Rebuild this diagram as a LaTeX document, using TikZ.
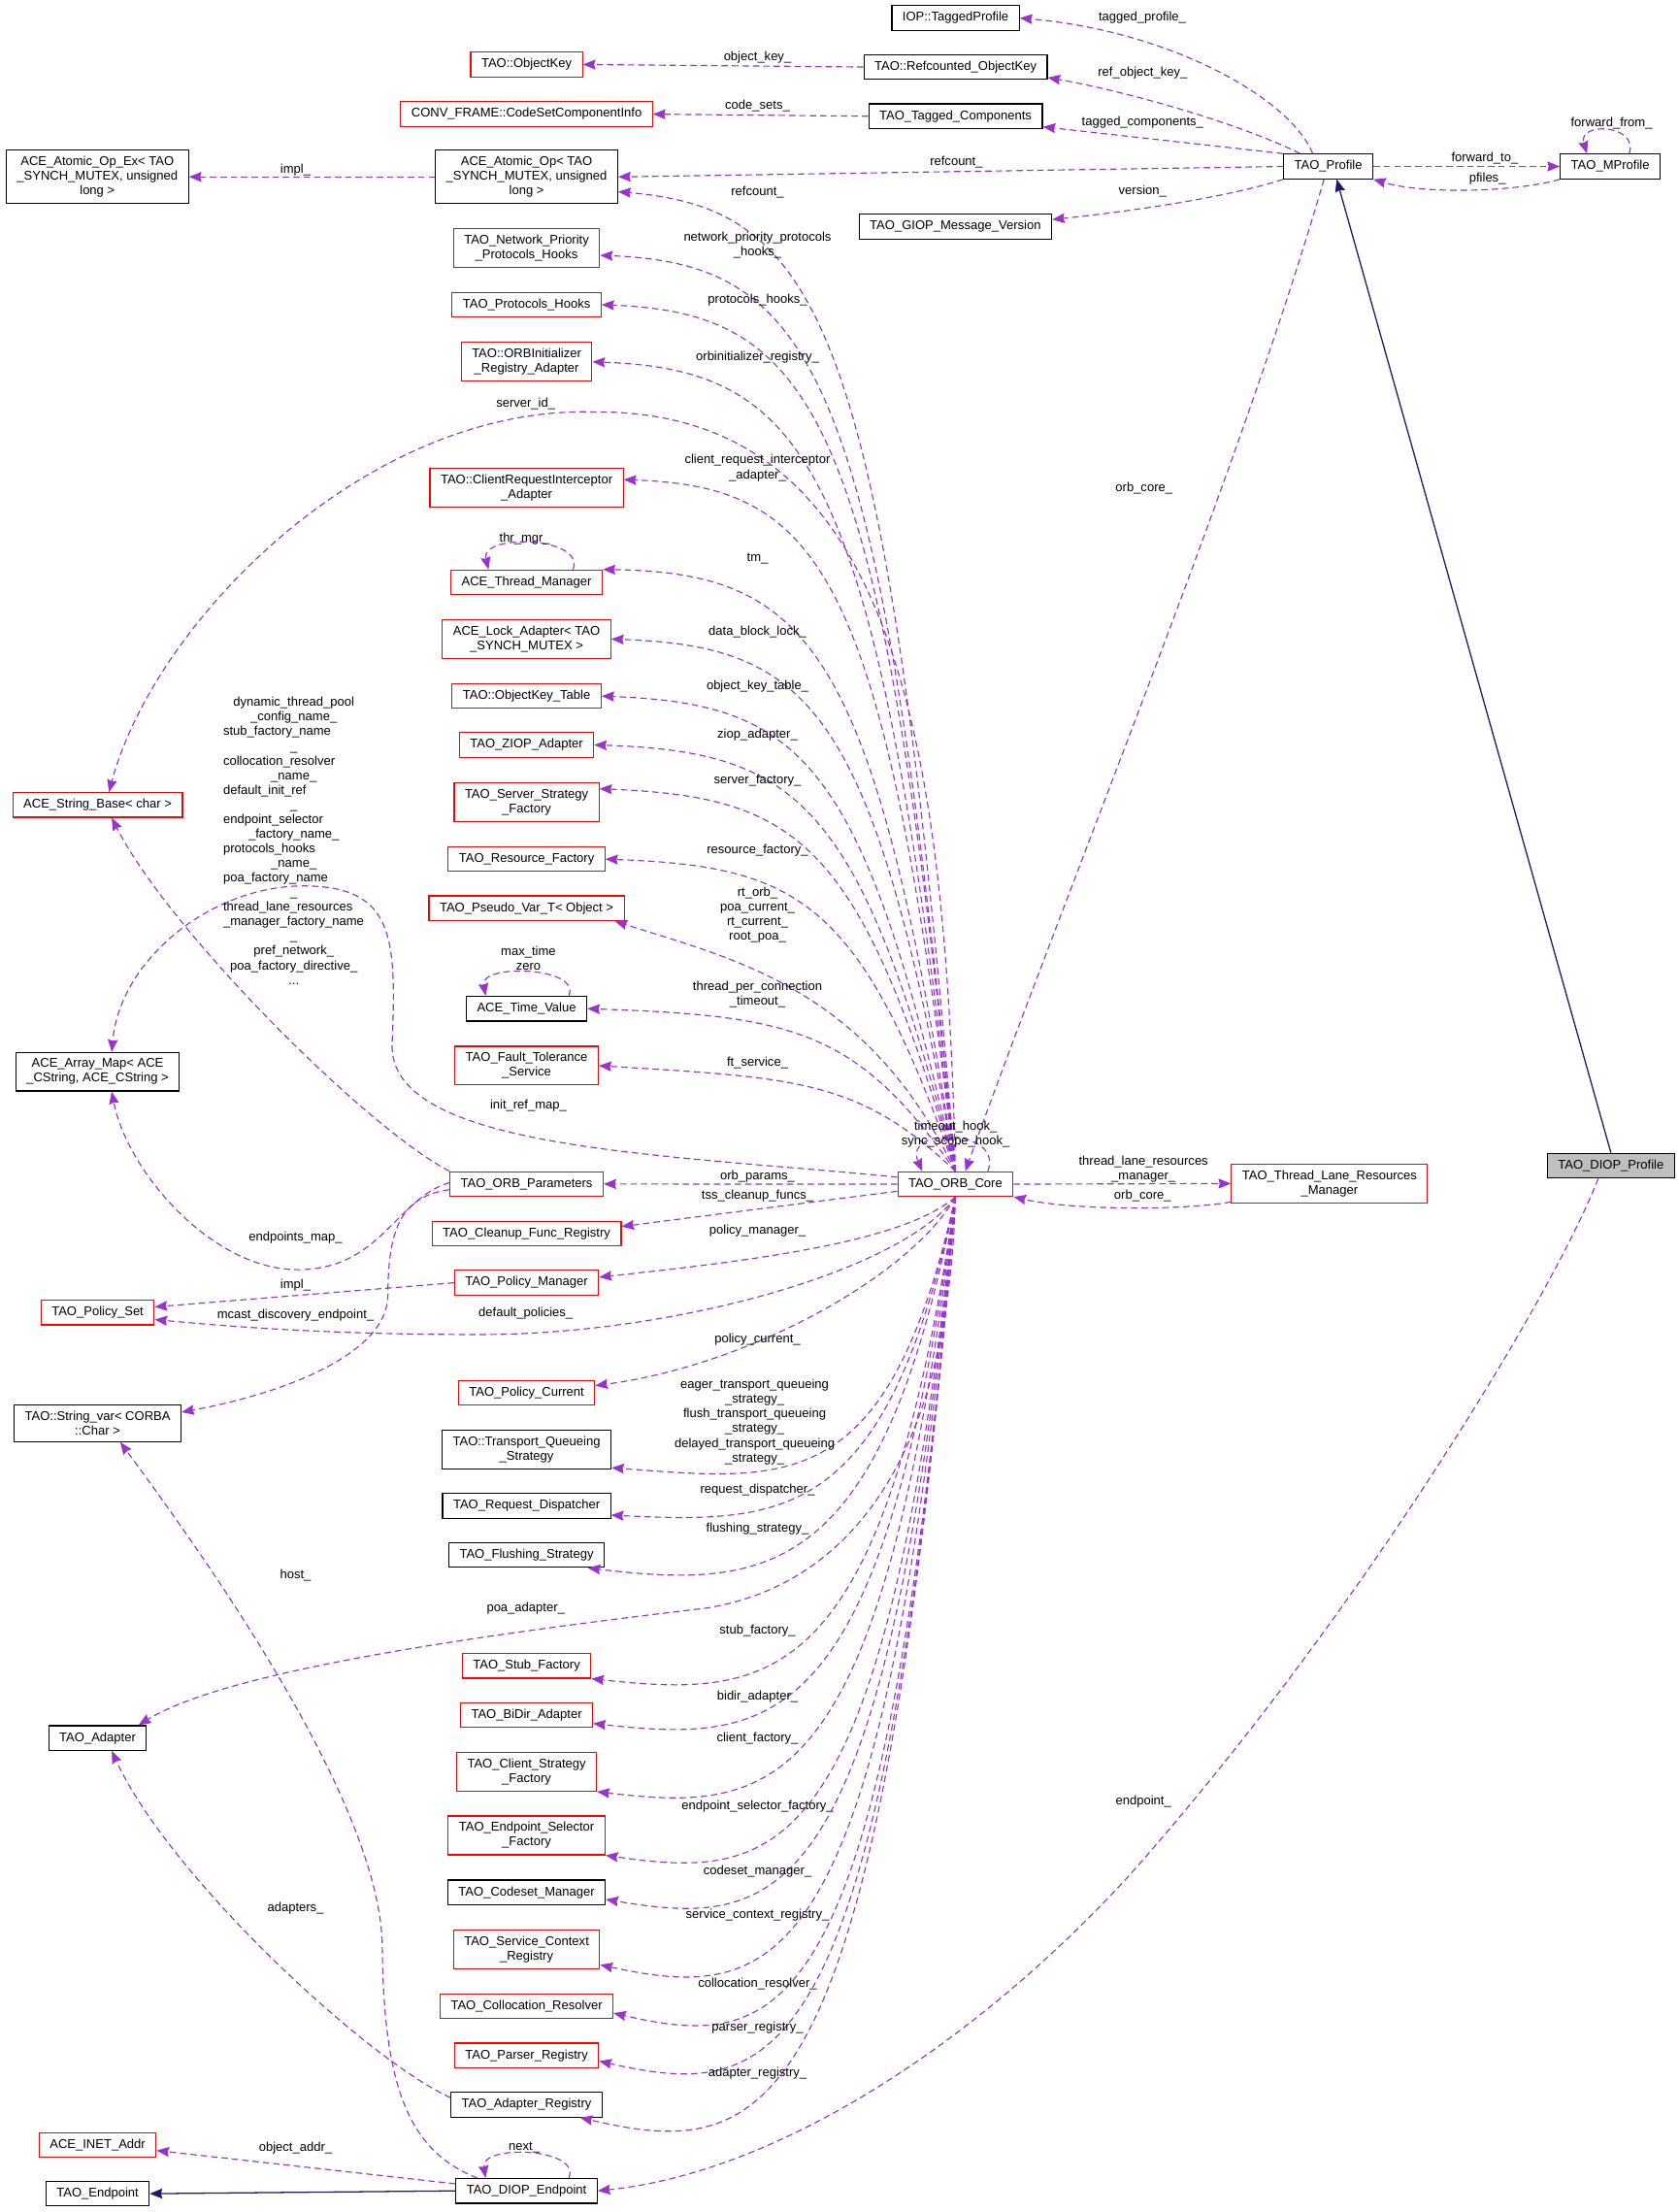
\documentclass[tikz,border=0pt]{standalone}
\usepackage{fontspec}
\setmainfont{Liberation Sans}
\usepackage{tikz}
\usetikzlibrary{arrows.meta, calc}

\definecolor{edgepurple}{HTML}{9A32CD}
\definecolor{inhnavy}{HTML}{191970}
\definecolor{curgray}{HTML}{BFBFBF}
\newcommand{\dxfont}{\fontsize{5.1}{5.9}\selectfont}
\newcommand{\lline}[1]{\makebox[2.0cm][l]{#1}}

\begin{document}
\begin{tikzpicture}[
    x=0.02cm, y=-0.02cm,
    >={Stealth[length=5pt,width=4pt,inset=0.5pt]},
    cls/.style={rectangle, draw=black, line width=0.45pt, inner xsep=4.3pt, inner ysep=2.5pt, minimum height=0.35cm, align=center, font=\dxfont},
    trunc/.style={cls, draw=red},
    cur/.style={cls, fill=curgray},
    uses/.style={->, draw=edgepurple, line width=0.45pt, dash pattern=on 2.6pt off 1.6pt},
    inherit/.style={->, draw=inhnavy, line width=0.5pt},
    lbl/.style={font=\dxfont, align=center, inner sep=0pt}
]
\useasboundingbox (0,0) rectangle (1190,1568);

% classes
\node[cls]   (tagprof)    at (677.4,12.8)  {IOP::TaggedProfile};
\node[trunc] (objkey)     at (373.3,45.7)  {TAO::ObjectKey};
\node[cls]   (refkey)     at (677.4,47.5)  {TAO::Refcounted\_ObjectKey};
\node[trunc] (codeset)    at (373.3,80.9)  {CONV\_FRAME::CodeSetComponentInfo};
\node[cls]   (tagcomp)    at (677.4,82.4)  {TAO\_Tagged\_Components};
\node[cls]   (atomex)     at (69,125.4)    {ACE\_Atomic\_Op\_Ex< TAO\\\_SYNCH\_MUTEX, unsigned\\long >};
\node[cls]   (atom)       at (373.3,125.4) {ACE\_Atomic\_Op< TAO\\\_SYNCH\_MUTEX, unsigned\\long >};
\node[cls]   (profile)    at (941.6,118)   {TAO\_Profile};
\node[cls]   (mprofile)   at (1141.5,118)  {TAO\_MProfile};
\node[cls]   (giopver)    at (677.3,160.6) {TAO\_GIOP\_Message\_Version};
\node[trunc] (netprio)    at (373.3,176)   {TAO\_Network\_Priority\\\_Protocols\_Hooks};
\node[trunc] (prothooks)  at (373.3,216)   {TAO\_Protocols\_Hooks};
\node[trunc] (orbinit)    at (373.3,256.5) {TAO::ORBInitializer\\\_Registry\_Adapter};
\node[trunc] (clientreq)  at (373.3,346)   {TAO::ClientRequestInterceptor\\\_Adapter};
\node[trunc] (thrmgr)     at (373.3,412.8) {ACE\_Thread\_Manager};
\node[trunc] (lockad)     at (373.3,453)   {ACE\_Lock\_Adapter< TAO\\\_SYNCH\_MUTEX >};
\node[trunc] (keytable)   at (373.3,493.4) {TAO::ObjectKey\_Table};
\node[trunc] (ziop)       at (373.3,528)   {TAO\_ZIOP\_Adapter};
\node[trunc] (serverfac)  at (373.3,568.6) {TAO\_Server\_Strategy\\\_Factory};
\node[trunc] (resfac)     at (373.3,609)   {TAO\_Resource\_Factory};
\node[trunc] (pseudovar)  at (373.3,643.8) {TAO\_Pseudo\_Var\_T< Object >};
\node[cls]   (timeval)    at (373.3,715)   {ACE\_Time\_Value};
\node[trunc] (ftserv)     at (373.3,755.4) {TAO\_Fault\_Tolerance\\\_Service};
\node[trunc] (params)     at (373.3,839.3) {TAO\_ORB\_Parameters};
\node[trunc] (cleanup)    at (373.3,874.4) {TAO\_Cleanup\_Func\_Registry};
\node[trunc] (polmgr)     at (373.3,909.3) {TAO\_Policy\_Manager};
\node[trunc] (polcur)     at (373.3,987.2) {TAO\_Policy\_Current};
\node[cls]   (tqueue)     at (373.3,1027.4) {TAO::Transport\_Queueing\\\_Strategy};
\node[cls]   (reqdisp)    at (373.3,1067.5) {TAO\_Request\_Dispatcher};
\node[cls]   (flush)      at (373.3,1102.3) {TAO\_Flushing\_Strategy};
\node[trunc] (stubfac)    at (373.3,1180.8) {TAO\_Stub\_Factory};
\node[trunc] (bidir)      at (373.3,1215.7) {TAO\_BiDir\_Adapter};
\node[trunc] (clientfac)  at (373.3,1255.9) {TAO\_Client\_Strategy\\\_Factory};
\node[trunc] (epsel)      at (373.3,1301)   {TAO\_Endpoint\_Selector\\\_Factory};
\node[cls]   (codesetmgr) at (373.3,1341.4) {TAO\_Codeset\_Manager};
\node[trunc] (svcctx)     at (373.3,1381.8) {TAO\_Service\_Context\\\_Registry};
\node[trunc] (colloc)     at (373.3,1422)   {TAO\_Collocation\_Resolver};
\node[trunc] (parser)     at (373.3,1457)   {TAO\_Parser\_Registry};
\node[cls]   (adreg)      at (373.3,1491.9) {TAO\_Adapter\_Registry};
\node[cls]   (diopep)     at (373.3,1553)   {TAO\_DIOP\_Endpoint};
\node[trunc] (strbase)    at (69.2,570.6)  {ACE\_String\_Base< char >};
\node[cls]   (arrmap)     at (69.2,759.7)  {ACE\_Array\_Map< ACE\\\_CString, ACE\_CString >};
\node[trunc] (polset)     at (69.2,930.4)  {TAO\_Policy\_Set};
\node[cls]   (strvar)     at (69.2,1009)   {TAO::String\_var< CORBA\\::Char >};
\node[cls]   (adapter)    at (69.2,1232)   {TAO\_Adapter};
\node[trunc] (inet)       at (69.2,1520.4) {ACE\_INET\_Addr};
\node[cls]   (endpoint)   at (69.2,1555)   {TAO\_Endpoint};
\node[trunc] (core)       at (677.3,839.4) {TAO\_ORB\_Core};
\node[trunc] (tlrm)       at (942.5,839)   {TAO\_Thread\_Lane\_Resources\\\_Manager};
\node[cur]   (diopprof)   at (1142,826.3)  {TAO\_DIOP\_Profile};

% TAO_Profile members
\draw[uses] ([xshift=-0.22cm]profile.north) .. controls (915,70) and (830,22) .. (tagprof.east);
\node[lbl] (ltagprof) at (809.8,12.3) {tagged\_profile\_};
\draw[uses] ([xshift=-0.4cm]profile.north) .. controls (880,88) and (800,65) .. ([yshift=-0.15cm]refkey.east);
\node[lbl] (lrefkey) at (810,52) {ref\_object\_key\_};
\draw[uses] (profile.north west) -- ([yshift=-0.15cm]tagcomp.east);
\node[lbl] (ltagcomp) at (810,87) {tagged\_components\_};
\draw[uses] (profile.west) -- (atom.east);
\node[lbl] (lrefcnt) at (678,114.7) {refcount\_};
\draw[uses] (profile.south west) .. controls (870,140) and (800,150) .. ([yshift=0.1cm]giopver.east);
\node[lbl] (lversion) at (810,135.4) {version\_};
\draw[uses] (profile.east) -- (mprofile.west);
\node[lbl] (lfwdto) at (1052.6,112.5) {forward\_to\_};
\draw[uses] (mprofile.south west) .. controls (1075,136) and (1010,138) .. (profile.south east);
\node[lbl] (lpfiles) at (1054.5,126.5) {pfiles\_};
\draw[uses] ([xshift=0.27cm]mprofile.north) .. controls (1162,88) and (1118,86) .. ([xshift=-0.33cm]mprofile.north);
\node[lbl] (lfwdfrom) at (1142.5,87.2) {forward\_from\_};
\draw[uses] ([xshift=-0.06cm]profile.south) .. controls (880,330) and (760,620) .. ([xshift=0.14cm]core.north);
\node[lbl] (lorbcore) at (811,346) {orb\_core\_};
\draw[inherit] (diopprof.north) -- ([xshift=0.12cm]profile.south);
\draw[uses] ([xshift=-0.18cm]diopprof.south) .. controls (1100,920) and (960,1150) .. (800,1330)
    .. controls (690,1450) and (550,1540) .. (diopep.east);
\node[lbl] (lendpt) at (810.6,1277) {endpoint\_};

% upper left
\draw[uses] (refkey.west) -- (objkey.east);
\node[lbl] (lobjkey) at (537,40.5) {object\_key\_};
\draw[uses] (tagcomp.west) -- (codeset.east);
\node[lbl] (lcodesets) at (537,75) {code\_sets\_};
\draw[uses] (atom.west) -- (atomex.east);
\node[lbl] (limpl) at (209.5,120.4) {impl\_};

% TAO_ORB_Core members, upper fan
\draw[uses] (core.north) .. controls (628,226) and (580,148) .. ([yshift=-0.21cm]atom.east);
\node[lbl] (lrefcnt2) at (537,136.4) {refcount\_};
\draw[uses] (core.north) .. controls (624,265) and (579,187) .. ([yshift=-0.1cm]netprio.east);
\node[lbl] (lnetprio) at (537,173.5) {network\_priority\_protocols\\\_hooks\_};
\draw[uses] (core.north) .. controls (625,296) and (580,222) .. (prothooks.east);
\node[lbl] (lprothooks) at (537,212.5) {protocols\_hooks\_};
\draw[uses] (core.north) .. controls (622,332) and (575,262) .. (orbinit.east);
\node[lbl] (lorbinit) at (537,253) {orbinitializer\_registry\_};
\draw[uses] (core.north) .. controls (670,500) and (625,290) .. (420,292)
    .. controls (260,288) and (110,440) .. ([xshift=0.16cm]strbase.north);
\node[lbl] (lserverid) at (372.7,286) {server\_id\_};
\draw[uses] (core.north) .. controls (626,404) and (582,345) .. ([yshift=0.12cm]clientreq.east);
\node[lbl] (lclientreq) at (537,331.7) {client\_request\_interceptor\\\_adapter\_};
\draw[uses] ([xshift=0.66cm]thrmgr.north) .. controls (415,380) and (340,378) .. ([xshift=-0.54cm]thrmgr.north);
\node[lbl] (lthrmgr) at (372,382) {thr\_mgr\_};
\draw[uses] (core.north) .. controls (620,460) and (575,406) .. (thrmgr.north east);
\node[lbl] (ltm) at (537,395.7) {tm\_};
\draw[uses] (core.north) .. controls (620,502) and (575,458) .. (lockad.east);
\node[lbl] (llock) at (537,448) {data\_block\_lock\_};
\draw[uses] (core.north) .. controls (612,537) and (568,499) .. (keytable.east);
\node[lbl] (lkeytable) at (537,486.6) {object\_key\_table\_};
\draw[uses] (core.north) .. controls (610,567) and (565,533) .. (ziop.east);
\node[lbl] (lziop) at (537,520.6) {ziop\_adapter\_};
\draw[uses] (core.north) .. controls (609,594) and (564,565) .. ([yshift=0.19cm]serverfac.east);
\node[lbl] (lserverfac) at (537,553.3) {server\_factory\_};
\draw[uses] (core.north) .. controls (610,638) and (566,614) .. (resfac.east);
\node[lbl] (lresfac) at (537,603) {resource\_factory\_};
\draw[uses] (core.north) .. controls (615,700) and (520,680) .. ([xshift=-0.14cm]pseudovar.south east);
\node[lbl] (lpseudo) at (537,648.6) {rt\_orb\_\\poa\_current\_\\rt\_current\_\\root\_poa\_};
\draw[uses] ([xshift=0.6cm]timeval.north) .. controls (412,685) and (340,683) .. ([xshift=-0.58cm]timeval.north);
\node[lbl] (ltimeloop) at (374.6,679.5) {max\_time\\zero};
\draw[uses] (core.north) .. controls (608,730) and (562,720) .. (timeval.east);
\node[lbl] (ltimeval) at (537,704.8) {thread\_per\_connection\\\_timeout\_};
\draw[uses] (core.north) .. controls (609,765) and (564,764) .. (ftserv.east);
\node[lbl] (lftserv) at (537,753.7) {ft\_service\_};
\draw[uses] ([yshift=0.1cm]core.west) .. controls (470,818) and (275,815) .. (278,740)
    .. controls (281,665) and (280,628) .. (215,628) .. controls (150,628) and (85,680) .. ([xshift=0.2cm]arrmap.north);
\node[lbl] (linitref) at (374.6,783.9) {init\_ref\_map\_};
\draw[uses] ([xshift=0.46cm]core.north) .. controls (712,800) and (640,798) .. ([xshift=-0.47cm]core.north);
\node[lbl] (lhooks) at (677.5,804) {timeout\_hook\_\\sync\_scope\_hook\_};

% TAO_ORB_Parameters members
\draw[uses] (params.north west) .. controls (260,800) and (120,660) .. ([xshift=0.2cm]strbase.south);
\node[lbl] (lnames) at (208.3,596) {dynamic\_thread\_pool\\\_config\_name\_\\\lline{stub\_factory\_name}\\\_\\
    \lline{collocation\_resolver}\\\_name\_\\\lline{default\_init\_ref}\\\_\\\lline{endpoint\_selector}\\
    \_factory\_name\_\\\lline{protocols\_hooks}\\\_name\_\\\lline{poa\_factory\_name}\\\_\\
    \lline{thread\_lane\_resources}\\\lline{\_manager\_factory\_name}\\\_\\pref\_network\_\\
    poa\_factory\_directive\_\\...};
\draw[uses] ([yshift=0.02cm]params.west) .. controls (280,850) and (270,900) .. (211,900)
    .. controls (150,900) and (90,830) .. ([xshift=0.2cm]arrmap.south);
\node[lbl] (lepmap) at (209.5,877.2) {endpoints\_map\_};
\draw[uses] ([yshift=-0.08cm]params.west) .. controls (285,848) and (275,870) .. (275,918)
    .. controls (275,960) and (200,988) .. ([yshift=0.16cm]strvar.east);
\node[lbl] (lmcast) at (209.5,932.5) {mcast\_discovery\_endpoint\_};

% policies
\draw[uses] (polmgr.west) -- ([yshift=0.08cm]polset.east);
\node[lbl] (limpl2) at (209.5,910.9) {impl\_};
\draw[uses] (core.south) .. controls (640,900) and (480,946) .. (340,946)
    .. controls (230,946) and (160,940) .. ([yshift=-0.1cm]polset.east);
\node[lbl] (ldefpol) at (372.7,931) {default\_policies\_};

% TAO_ORB_Core members, lower fan
\draw[uses] (core.west) -- (params.east);
\node[lbl] (lparams) at (537,834.3) {orb\_params\_};
\draw[uses] ([yshift=-0.1cm]core.west) -- ([yshift=0.1cm]cleanup.east);
\node[lbl] (ltss) at (537,847.8) {tss\_cleanup\_funcs\_};
\draw[uses] (core.south) .. controls (640,880) and (540,893) .. ([yshift=0.08cm]polmgr.east);
\node[lbl] (lpolmgr) at (537,872.8) {policy\_manager\_};
\draw[uses] (core.south) .. controls (645,905) and (530,968) .. ([yshift=0.1cm]polcur.east);
\node[lbl] (lpolcur) at (537,949.7) {policy\_current\_};
\draw[uses] (core.south) .. controls (630,1060) and (560,1050) .. ([yshift=-0.26cm]tqueue.east);
\node[lbl] (ltqueue) at (535,1008) {eager\_transport\_queueing\\\_strategy\_\\flush\_transport\_queueing\\\_strategy\_\\delayed\_transport\_queueing\\\_strategy\_};
\draw[uses] (core.south) .. controls (629,1078) and (557,1080) .. ([yshift=-0.13cm]reqdisp.east);
\node[lbl] (lreqdisp) at (537,1056.2) {request\_dispatcher\_};
\draw[uses] (core.south) .. controls (625,1117) and (547,1127) .. ([xshift=-0.24cm]flush.south east);
\node[lbl] (lflush) at (537,1083.7) {flushing\_strategy\_};
\draw[uses] (core.south) .. controls (672,1050) and (590,1126) .. (500,1140)
    .. controls (330,1160) and (160,1185) .. ([xshift=0.58cm]adapter.north);
\node[lbl] (lpoa) at (372.7,1140.2) {poa\_adapter\_};
\draw[uses] (core.south) .. controls (626,1197) and (549,1204) .. (stubfac.south east);
\node[lbl] (lstub) at (537,1156.2) {stub\_factory\_};
\draw[uses] (core.south) .. controls (626,1228) and (550,1236) .. ([yshift=-0.12cm]bidir.east);
\node[lbl] (lbidir) at (537,1202.7) {bidir\_adapter\_};
\draw[uses] (core.south) .. controls (626,1276) and (550,1285) .. (clientfac.south east);
\node[lbl] (lclientfac) at (537,1232.5) {client\_factory\_};
\draw[uses] (core.south) .. controls (628,1323) and (553,1333) .. (epsel.south east);
\node[lbl] (lepsel) at (537,1280.3) {endpoint\_selector\_factory\_};
\draw[uses] (core.south) .. controls (628,1357) and (553,1367) .. ([yshift=-0.1cm]codesetmgr.east);
\node[lbl] (lcodeset) at (537,1326.8) {codeset\_manager\_};
\draw[uses] (core.south) .. controls (627,1404) and (552,1420) .. ([yshift=-0.22cm]svcctx.east);
\node[lbl] (lsvcctx) at (537,1357.2) {service\_context\_registry\_};
\draw[uses] (core.south) .. controls (629,1439) and (556,1455) .. ([yshift=-0.1cm]colloc.east);
\node[lbl] (lcolloc) at (537,1406.1) {collocation\_resolver\_};
\draw[uses] (core.south) .. controls (627,1473) and (552,1490) .. ([yshift=-0.08cm]parser.east);
\node[lbl] (lparser) at (537,1437.1) {parser\_registry\_};
\draw[uses] (core.south) .. controls (624,1514) and (544,1532) .. ([xshift=-0.32cm]adreg.south east);
\node[lbl] (ladreg) at (537,1470) {adapter\_registry\_};

% thread lane resources
\draw[uses] (core.east) -- (tlrm.west);
\node[lbl] (ltlrm) at (810.6,829) {thread\_lane\_resources\\\_manager\_};
\draw[uses] ([yshift=-0.26cm]tlrm.west) .. controls (840,858) and (760,858) .. ([yshift=-0.18cm]core.east);
\node[lbl] (lorbcore2) at (810,848) {orb\_core\_};

% bottom left
\draw[uses] ([xshift=-0.7cm]diopep.north) .. controls (290,1525) and (272,1480) .. (271,1380)
    .. controls (270,1280) and (150,1110) .. ([xshift=0.32cm]strvar.south);
\node[lbl] (lhost) at (209.5,1116.9) {host\_};
\draw[uses] ([yshift=0.1cm]adreg.west) .. controls (260,1460) and (120,1330) .. ([xshift=0.2cm]adapter.south);
\node[lbl] (ladapters) at (209.5,1352.4) {adapters\_};
\draw[uses] ([xshift=0.6cm]diopep.north) .. controls (412,1522) and (340,1520) .. ([xshift=-0.58cm]diopep.north);
\node[lbl] (lnext) at (371.6,1522) {next\_};
\draw[uses] ([yshift=0.1cm]diopep.west) -- ([yshift=-0.08cm]inet.east);
\node[lbl] (lobjaddr) at (209.5,1522.7) {object\_addr\_};
\draw[inherit] (diopep.west) -- (endpoint.east);

\end{tikzpicture}
\end{document}
